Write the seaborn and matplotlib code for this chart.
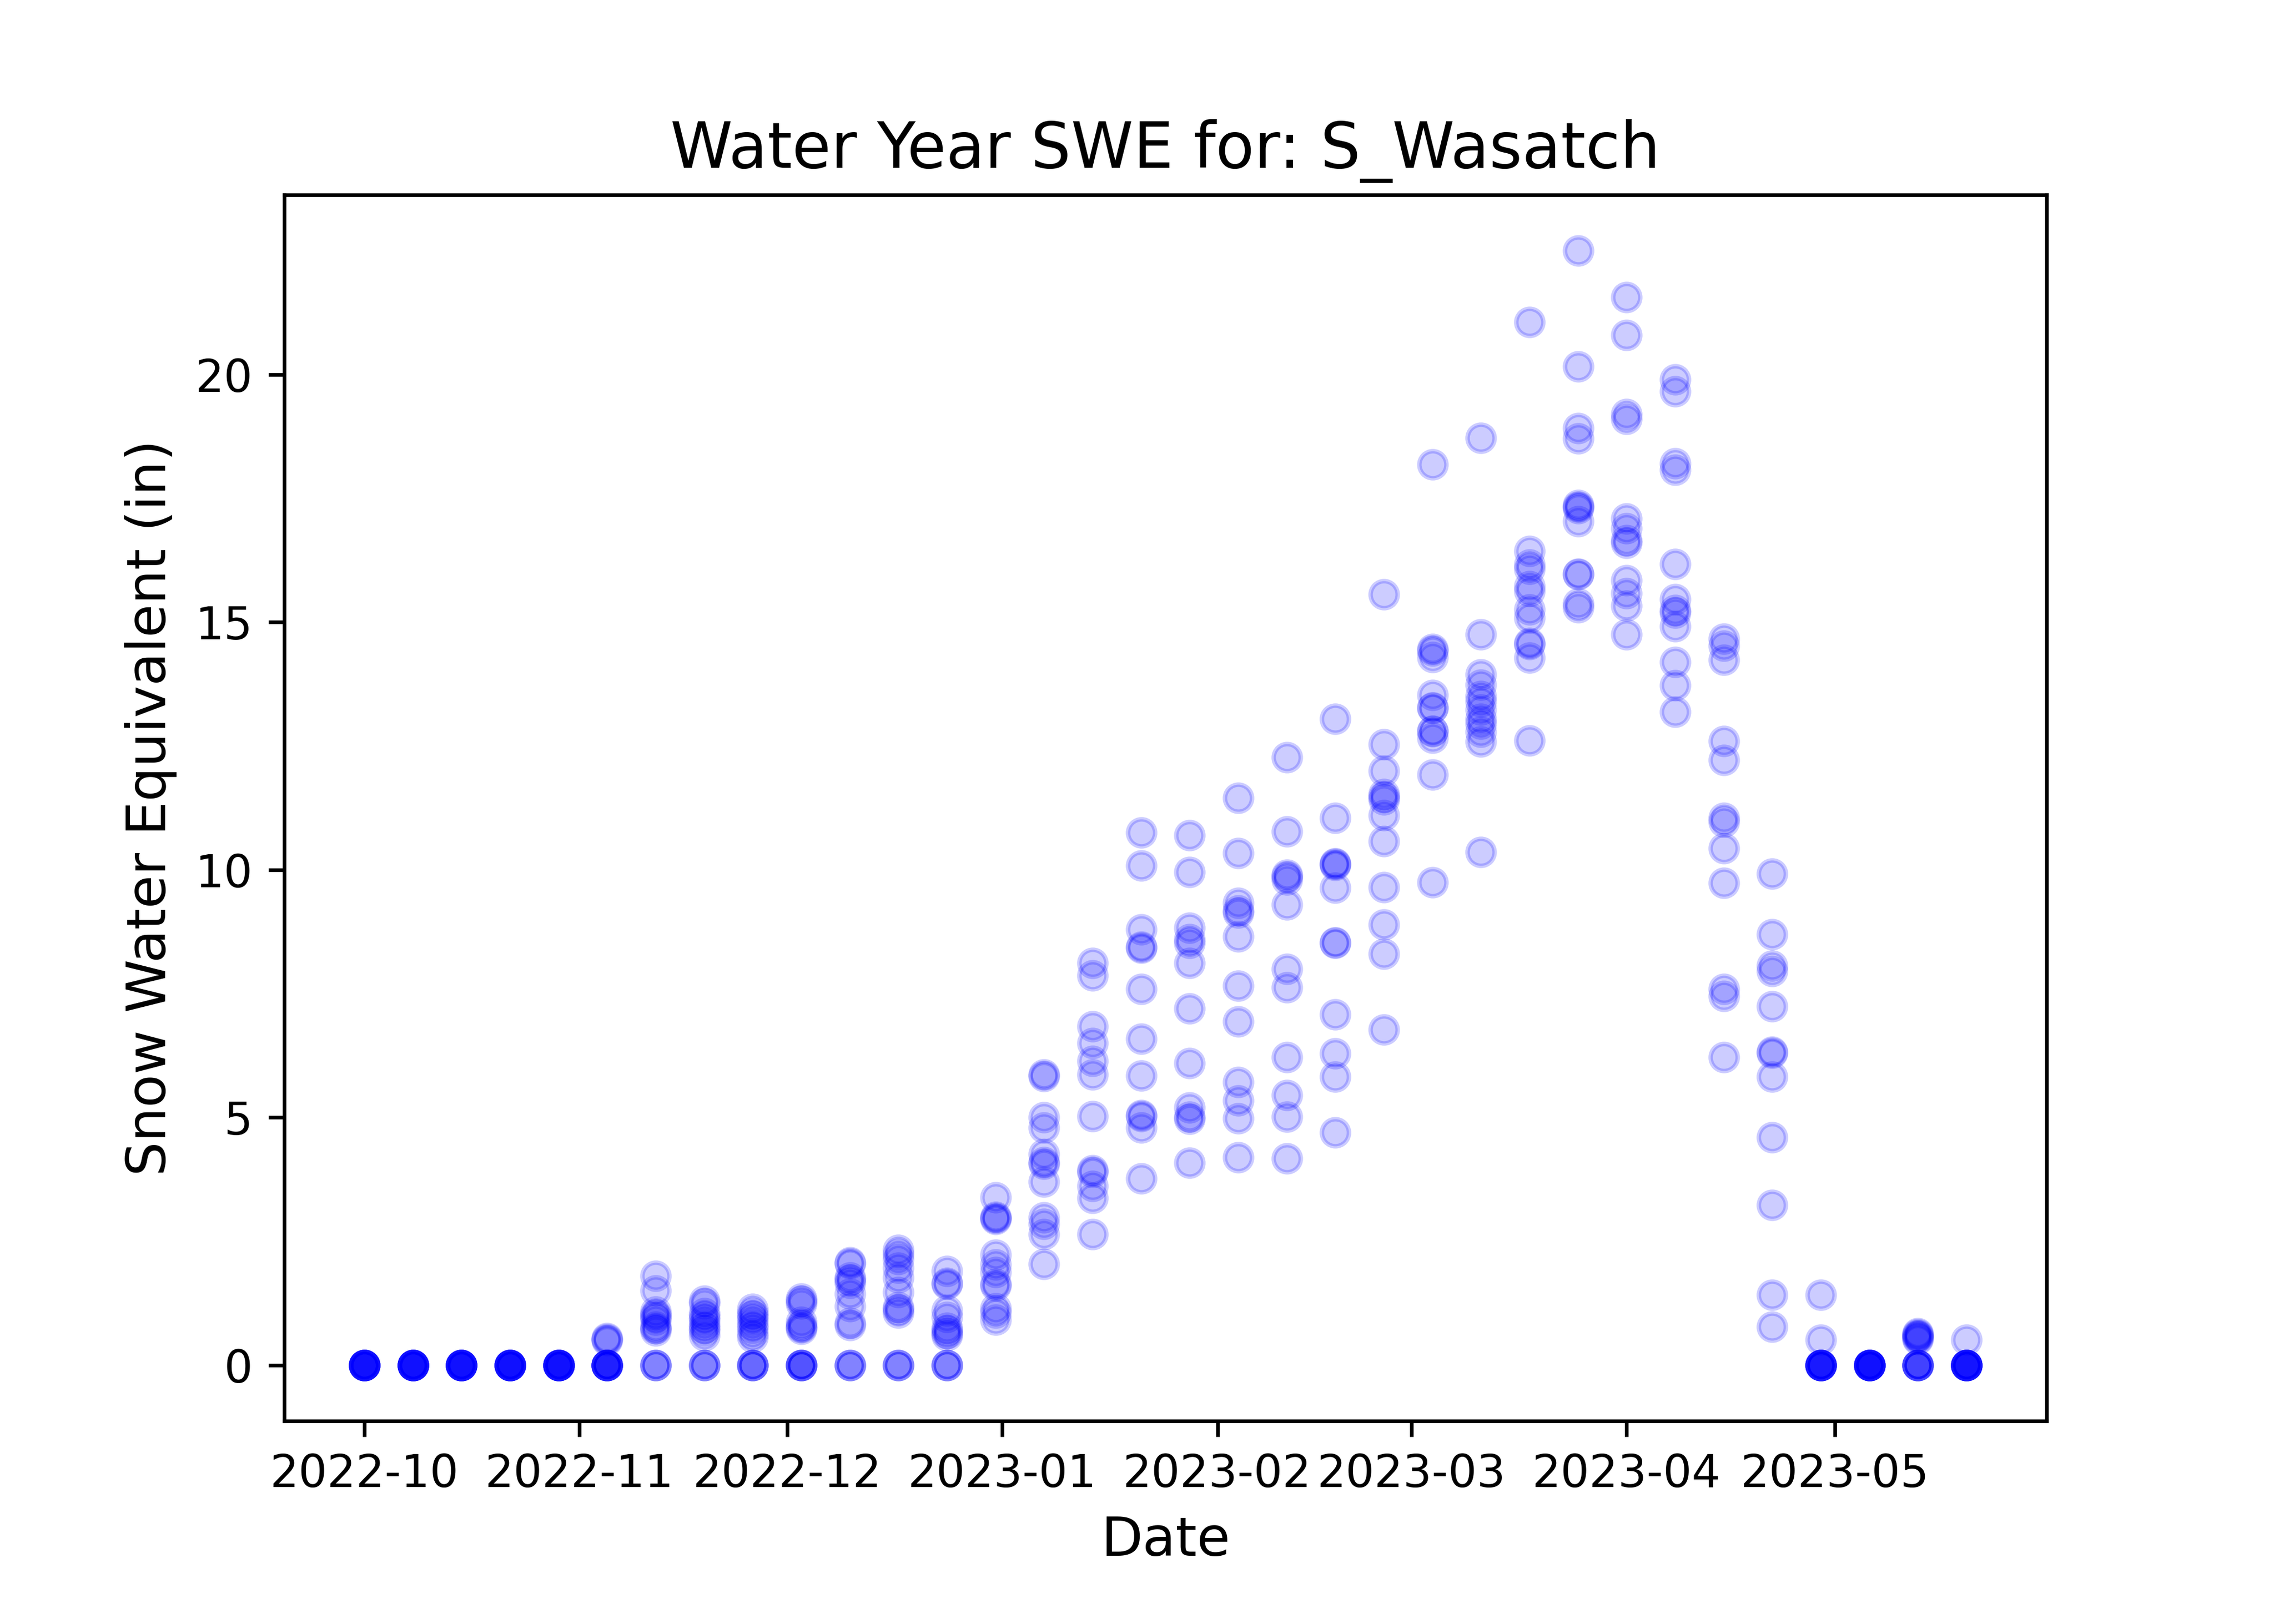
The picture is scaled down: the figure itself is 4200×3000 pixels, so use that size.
from __future__ import annotations

import matplotlib
matplotlib.use("Agg")
import matplotlib.pyplot as plt
import pandas as pd
import seaborn as sns

# weekly sampling dates, one entry per column of points
dates = [
    "2022-10-01", "2022-10-08", "2022-10-15", "2022-10-22", "2022-10-29",
    "2022-11-05", "2022-11-12", "2022-11-19", "2022-11-26",
    "2022-12-03", "2022-12-10", "2022-12-17", "2022-12-24", "2022-12-31",
    "2023-01-07", "2023-01-14", "2023-01-21", "2023-01-28",
    "2023-02-04", "2023-02-11", "2023-02-18", "2023-02-25",
    "2023-03-04", "2023-03-11", "2023-03-18", "2023-03-25",
    "2023-04-01", "2023-04-08", "2023-04-15", "2023-04-22", "2023-04-29",
    "2023-05-06", "2023-05-13", "2023-05-20",
]

# SWE (in), 12 stations per date
swe = [
    [0] * 12,
    [0] * 12,
    [0] * 12,
    [0] * 12,
    [0] * 12,
    [0] * 9 + [0.55, 0.53, 0.50],
    [0] * 3 + [1.80, 1.51, 1.08, 1.02, 0.98, 0.92, 0.78, 0.74, 0.70],
    [0] * 3 + [1.30, 1.25, 1.05, 0.98, 0.92, 0.82, 0.75, 0.70, 0.60],
    [0] * 4 + [1.14, 1.05, 1.00, 0.92, 0.82, 0.75, 0.65, 0.57],
    [0] * 5 + [1.35, 1.30, 1.25, 0.88, 0.80, 0.77, 0.73],
    [0] * 3 + [2.08, 2.05, 1.77, 1.73, 1.66, 1.44, 1.19, 0.85, 0.81],
    [0] * 3 + [2.33, 2.24, 2.14, 1.97, 1.77, 1.48, 1.17, 1.13, 1.06],
    [0] * 3 + [1.90, 1.66, 1.64, 1.10, 0.97, 0.75, 0.70, 0.64, 0.60],
    [3.39, 2.99, 2.97, 2.95, 2.23, 2.03, 1.88, 1.64, 1.61, 1.15, 1.06, 0.92],
    [5.87, 5.84, 5.01, 4.80, 4.26, 4.10, 4.07, 3.71, 2.98, 2.85, 2.65, 2.04],
    [8.12, 7.87, 6.84, 6.50, 6.14, 5.87, 5.03, 3.93, 3.90, 3.62, 3.38, 2.64],
    [10.75, 10.09, 8.80, 8.45, 8.42, 7.60, 6.59, 5.85, 5.05, 5.03, 4.80, 3.77],
    [10.70, 9.96, 8.83, 8.60, 8.52, 8.12, 7.20, 6.10, 5.20, 5.02, 4.97, 4.09],
    [11.45, 10.34, 9.33, 9.18, 9.14, 8.65, 7.66, 6.94, 5.72, 5.34, 4.98, 4.20],
    [12.27, 10.78, 9.90, 9.87, 9.80, 9.30, 8.00, 7.63, 6.22, 5.45, 5.02, 4.17],
    [13.05, 11.05, 10.13, 10.12, 10.10, 9.64, 8.53, 8.52, 7.08, 6.29, 5.83, 4.70],
    [15.56, 12.53, 12.00, 11.53, 11.47, 11.42, 11.10, 10.58, 9.65, 8.90, 8.30, 6.78],
    [18.18, 14.46, 14.42, 14.29, 13.53, 13.28, 13.27, 12.81, 12.80, 12.66, 11.92, 9.75],
    [18.72, 14.75, 13.94, 13.74, 13.51, 13.40, 13.23, 13.05, 12.95, 12.78, 12.59, 10.36],
    [21.06, 16.43, 16.16, 16.07, 15.72, 15.63, 15.26, 15.09, 14.58, 14.56, 14.28, 12.61],
    [22.50, 20.16, 18.92, 18.71, 17.36, 17.33, 17.30, 17.04, 15.98, 15.96, 15.37, 15.30],
    [21.56, 20.79, 19.20, 19.10, 17.09, 16.89, 16.65, 16.60, 15.84, 15.58, 15.33, 14.75],
    [19.90, 19.66, 18.20, 18.07, 16.17, 15.46, 15.24, 15.19, 14.92, 14.19, 13.73, 13.19],
    [14.67, 14.52, 14.24, 12.60, 12.22, 11.05, 10.97, 10.44, 9.74, 7.60, 7.45, 6.22],
    [9.92, 8.70, 8.07, 7.95, 7.25, 6.33, 6.31, 5.82, 4.60, 3.24, 1.42, 0.78],
    [0] * 10 + [1.42, 0.51],
    [0] * 12,
    [0] * 6 + [0.65, 0.62, 0.60, 0.58, 0.55, 0.52],
    [0] * 11 + [0.51],
]

df = pd.DataFrame({"date": pd.to_datetime(dates), "swe": swe}).explode("swe")
df["swe"] = df["swe"].astype(float)

fig, ax = plt.subplots(figsize=(7, 5), dpi=600)
fig.subplots_adjust(bottom=0.125)
sns.scatterplot(
    data=df, x="date", y="swe", ax=ax,
    color="blue", alpha=0.2, s=36, edgecolor="blue", linewidth=1,
)
ax.set_title("Water Year SWE for: S_Wasatch", fontsize=14)
ax.set_xlabel("Date", fontsize=12)
ax.set_ylabel("Snow Water Equivalent (in)", fontsize=12)
fig.savefig("out.png")
